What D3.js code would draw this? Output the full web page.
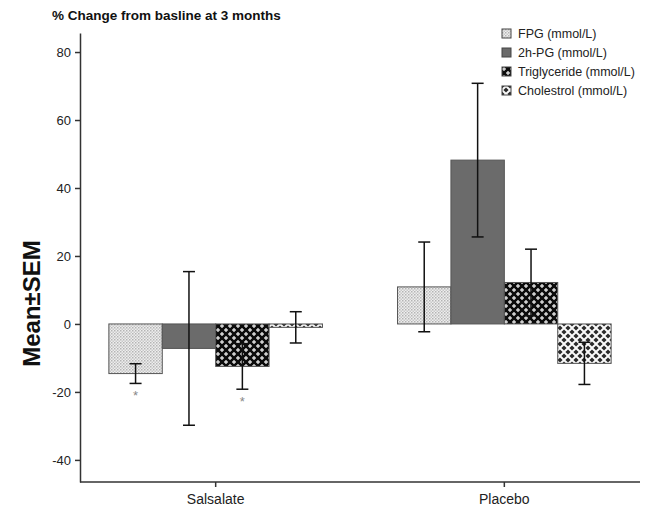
<!DOCTYPE html>
<html>
<head>
  <meta charset="UTF-8">
  <title>% Change from baseline</title>
  <script src="https://d3js.org/d3.v7.min.js"></script>
  <style>
    body {
      margin: 0;
      background: #fff;
      font-family: "Liberation Sans", Arial, sans-serif;
    }
    .axis path, .axis line {
      stroke: #333;
      stroke-width: 1.5;
    }
    .axis text {
      font-size: 13px;
      fill: #222;
      font-family: "Liberation Sans", Arial, sans-serif;
    }
    .xaxis text {
      font-size: 14px;
    }
    .err {
      stroke: #111;
      stroke-width: 1.5;
    }
    .legend text {
      font-size: 12.5px;
      fill: #222;
    }
  </style>
</head>
<body>
  <div id="chart"></div>
  <script>
    const groups = ["Salsalate", "Placebo"];
    const measures = ["FPG (mmol/L)", "2h-PG (mmol/L)", "Triglyceride (mmol/L)", "Cholestrol (mmol/L)"];
    // means per group, in measure order
    const salsalateMean = [-14.6, -7.2, -12.5, -1.0];
    const placeboMean = [10.9, 48.2, 12.2, -11.6];
    // SEM per group
    const salsalateSem = [2.9, 22.6, 6.7, 4.6];
    const placeboSem = [13.2, 22.6, 9.8, 6.2];
    // significance marks (*) per group
    const salsalateSig = [true, false, true, false];
    const placeboSig = [false, false, false, false];
    const yTicks = [-40, -20, 0, 20, 40, 60, 80];

    const width = 651, height = 511;
    const margin = { top: 33, right: 11, bottom: 29, left: 80 };

    const svg = d3.select("#chart").append("svg")
      .attr("width", width)
      .attr("height", height);

    // patterns
    const defs = svg.append("defs");

    const pFpg = defs.append("pattern").attr("id", "p0")
      .attr("width", 3).attr("height", 3).attr("patternUnits", "userSpaceOnUse");
    pFpg.append("rect").attr("width", 3).attr("height", 3).attr("fill", "#eeeeee");
    pFpg.append("rect").attr("x", 0).attr("y", 0).attr("width", 1.5).attr("height", 1.5).attr("fill", "#b4b4b4");
    pFpg.append("rect").attr("x", 1.5).attr("y", 1.5).attr("width", 1.5).attr("height", 1.5).attr("fill", "#c8c8c8");

    const pTri = defs.append("pattern").attr("id", "p2")
      .attr("width", 8).attr("height", 8).attr("patternUnits", "userSpaceOnUse");
    pTri.append("rect").attr("width", 8).attr("height", 8).attr("fill", "#0c0c0c");
    [[2, 2], [6, 6]].forEach(([cx, cy]) => {
      pTri.append("rect").attr("x", cx - 2).attr("y", cy - 0.6).attr("width", 4).attr("height", 1.2).attr("fill", "#f2f2f2");
      pTri.append("rect").attr("x", cx - 0.6).attr("y", cy - 2).attr("width", 1.2).attr("height", 4).attr("fill", "#f2f2f2");
    });

    const pChol = defs.append("pattern").attr("id", "p3")
      .attr("width", 8).attr("height", 8).attr("patternUnits", "userSpaceOnUse");
    pChol.append("rect").attr("width", 8).attr("height", 8).attr("fill", "#fafafa");
    [[0, 0], [8, 0], [0, 8], [8, 8], [4, 4]].forEach(([cx, cy]) => {
      pChol.append("path")
        .attr("d", `M${cx},${cy - 2.6}L${cx + 2.6},${cy}L${cx},${cy + 2.6}L${cx - 2.6},${cy}Z`)
        .attr("fill", "#2a2a2a");
    });

    const fills = ["url(#p0)", "#6b6b6b", "url(#p2)", "url(#p3)"];

    const x0 = d3.scaleBand()
      .domain(groups)
      .range([margin.left, width - margin.right])
      .paddingInner(0.26)
      .paddingOuter(0.1);

    const x1 = d3.scaleBand()
      .domain(measures)
      .range([0, x0.bandwidth()]);

    const y = d3.scaleLinear()
      .domain([-46.5, 85.6])
      .range([height - margin.bottom, margin.top]);

    const data = [];
    groups.forEach((g, gi) => {
      const means = gi === 0 ? salsalateMean : placeboMean;
      const sems = gi === 0 ? salsalateSem : placeboSem;
      const sig = gi === 0 ? salsalateSig : placeboSig;
      measures.forEach((m, mi) => {
        data.push({ group: g, measure: m, mi: mi, mean: means[mi], sem: sems[mi], sig: sig[mi] });
      });
    });

    // title
    svg.append("text")
      .attr("x", 52)
      .attr("y", 20)
      .attr("font-size", "13.5px")
      .attr("font-weight", "bold")
      .attr("fill", "#111")
      .text("% Change from basline at 3 months");

    // y label
    svg.append("text")
      .attr("transform", `translate(40, ${y(6)}) rotate(-90)`)
      .attr("text-anchor", "middle")
      .attr("font-size", "24px")
      .attr("font-weight", "bold")
      .attr("fill", "#111")
      .text("Mean\u00B1SEM");

    // bars
    const cx = d => x0(d.group) + x1(d.measure);
    svg.selectAll(".bar")
      .data(data)
      .enter()
      .append("rect")
      .attr("class", "bar")
      .attr("x", d => cx(d))
      .attr("y", d => y(Math.max(d.mean, 0)))
      .attr("width", x1.bandwidth())
      .attr("height", d => Math.abs(y(d.mean) - y(0)))
      .attr("fill", d => fills[d.mi])
      .attr("stroke", "#555")
      .attr("stroke-width", 1);

    // error bars
    const capW = 6;
    const eb = svg.selectAll(".eb")
      .data(data)
      .enter()
      .append("g")
      .attr("class", "eb");
    eb.append("line").attr("class", "err")
      .attr("x1", d => cx(d) + x1.bandwidth() / 2)
      .attr("x2", d => cx(d) + x1.bandwidth() / 2)
      .attr("y1", d => y(d.mean + d.sem))
      .attr("y2", d => y(d.mean - d.sem));
    eb.append("line").attr("class", "err")
      .attr("x1", d => cx(d) + x1.bandwidth() / 2 - capW)
      .attr("x2", d => cx(d) + x1.bandwidth() / 2 + capW)
      .attr("y1", d => y(d.mean + d.sem))
      .attr("y2", d => y(d.mean + d.sem));
    eb.append("line").attr("class", "err")
      .attr("x1", d => cx(d) + x1.bandwidth() / 2 - capW)
      .attr("x2", d => cx(d) + x1.bandwidth() / 2 + capW)
      .attr("y1", d => y(d.mean - d.sem))
      .attr("y2", d => y(d.mean - d.sem));

    // stars
    svg.selectAll(".star")
      .data(data.filter(d => d.sig))
      .enter()
      .append("text")
      .attr("class", "star")
      .attr("x", d => cx(d) + x1.bandwidth() / 2)
      .attr("y", d => y(d.mean - d.sem) + 17)
      .attr("text-anchor", "middle")
      .attr("font-size", "13px")
      .attr("fill", "#888")
      .text("*");

    // axes
    svg.append("g")
      .attr("class", "axis")
      .attr("transform", `translate(${margin.left},0)`)
      .call(d3.axisLeft(y).tickValues(yTicks).tickSize(5).tickSizeOuter(0).tickPadding(4)
        .tickFormat(d => String(d)));

    svg.append("g")
      .attr("class", "axis xaxis")
      .attr("transform", `translate(0,${height - margin.bottom})`)
      .call(d3.axisBottom(x0).tickSize(5).tickSizeOuter(0).tickPadding(7))
      .select(".domain")
      .attr("d", `M${margin.left},0H${width - margin.right}`);

    // legend
    const legend = svg.append("g").attr("class", "legend");
    const row = legend.selectAll("g")
      .data(measures)
      .enter()
      .append("g")
      .attr("transform", (d, i) => `translate(502, ${29 + i * 19})`);
    row.append("rect")
      .attr("width", 9).attr("height", 9)
      .attr("fill", (d, i) => fills[i])
      .attr("stroke", "#444")
      .attr("stroke-width", 1);
    row.append("text")
      .attr("x", 16)
      .attr("y", 9)
      .text(d => d);
  </script>
</body>
</html>
